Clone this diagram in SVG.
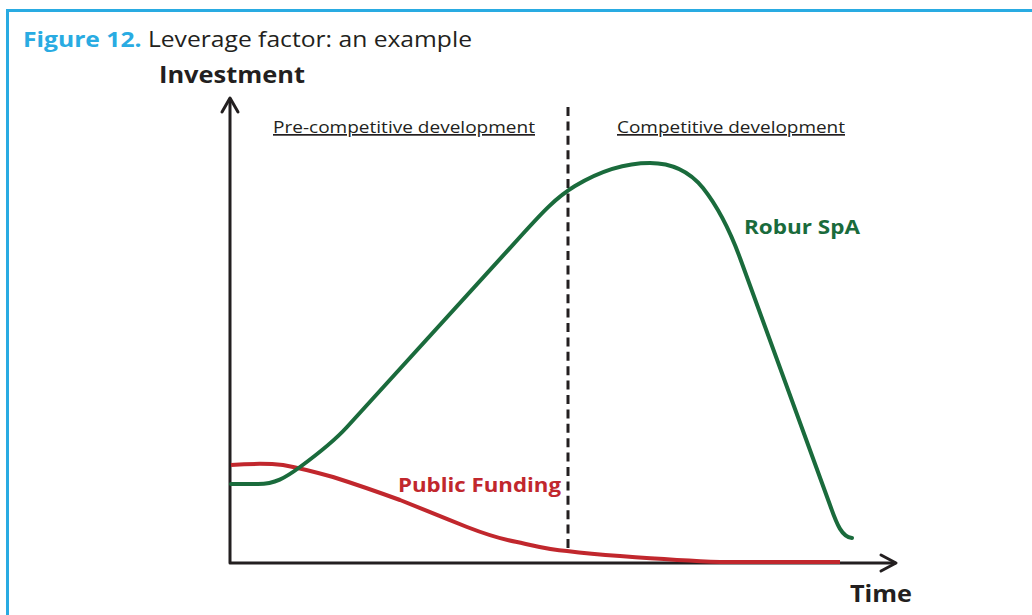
<svg xmlns="http://www.w3.org/2000/svg" width="1032" height="615" viewBox="0 0 1032 615">
  <style>
    .frame{fill:none;stroke:#29abe2;stroke-width:3}
    .axis{fill:none;stroke:#231f20;stroke-width:3;stroke-linecap:round;stroke-linejoin:round}
    .dash{fill:none;stroke:#231f20;stroke-width:3;stroke-dasharray:9 5.4}
    .green{fill:none;stroke:#1a6b3c;stroke-width:4;stroke-linecap:round;stroke-linejoin:round}
    .red{fill:none;stroke:#c1272d;stroke-width:4;stroke-linecap:butt;stroke-linejoin:round}
    .t{font-family:"Open Sans","Noto Sans","Liberation Sans",sans-serif;fill:#231f20}
    .b{font-weight:bold}
  </style>
  <rect width="1032" height="615" fill="#ffffff"/>
  <rect class="frame" x="7.5" y="10.5" width="1100" height="700"/>

  <g id="title">
    <text class="t" x="23" y="47" font-size="22" textLength="449" lengthAdjust="spacingAndGlyphs"><tspan class="b" fill="#29abe2">Figure 12.</tspan> Leverage factor: an example</text>
  </g>

  <g id="axes">
    <polyline class="axis" points="230,99 230,563 895,563"/>
    <polyline class="axis" points="222,112 230,98 238,112"/>
    <polyline class="axis" points="881,555 896,563 881,571"/>
    <text class="t b" x="159" y="83" font-size="24" textLength="146" lengthAdjust="spacingAndGlyphs">Investment</text>
    <text class="t b" x="850" y="602" font-size="24" textLength="62" lengthAdjust="spacingAndGlyphs">Time</text>
  </g>

  <g id="phases">
    <line class="dash" x1="568" y1="107" x2="568" y2="550"/>
    <text class="t" x="273" y="133" font-size="17" text-decoration="underline" textLength="262" lengthAdjust="spacingAndGlyphs">Pre-competitive development</text>
    <text class="t" x="617" y="133" font-size="17" text-decoration="underline" textLength="228" lengthAdjust="spacingAndGlyphs">Competitive development</text>
  </g>

  <g id="connectors">
    <path id="public-funding-curve" class="red" d="M231,465 C245,464 265,463 283,465 C300,468 315,472 333,477 C355,484 378,492 400,500 C425,510 445,518 467,527 C485,534 500,539 517,542 C535,546 550,550 567,551 C590,554 605,555 620,556 C660,559 690,561 720,562 L840,562"/>
    <path id="robur-curve" class="green" d="M231,484 L258,484 C275,484 285,478 300,467 C315,456 332,443.5 347,427 L520,237 C540,215 555,198 575,186 C600,171 625,163 650,163 C672,163 690,172 703,188 C718,207 729,228 740,258 L830,505 C837,525 842,537 852,538"/>
  </g>

  <g id="robur-label">
    <text class="t b" x="744" y="234" font-size="20" style="fill:#1a6b3c" textLength="116" lengthAdjust="spacingAndGlyphs">Robur SpA</text>
  </g>
  <g id="public-label">
    <text class="t b" x="398" y="492" font-size="20" style="fill:#c1272d" textLength="163" lengthAdjust="spacingAndGlyphs">Public Funding</text>
  </g>
</svg>
